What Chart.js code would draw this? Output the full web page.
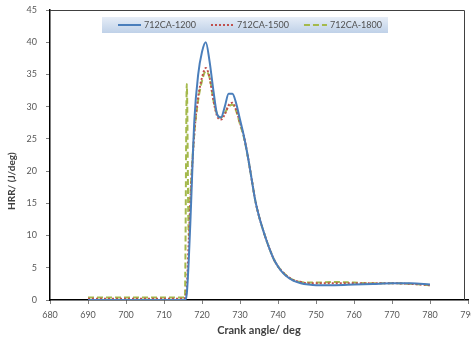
<!DOCTYPE html>
<html>
<head>
<meta charset="utf-8">
<title>HRR vs crank angle</title>
<script src="https://cdn.jsdelivr.net/npm/chart.js@4.4.1/dist/chart.umd.min.js"></script>
<style>
  html, body { margin: 0; padding: 0; background: #fff; overflow: hidden; }
  #chart { display: block; }
</style>
</head>
<body>
<canvas id="chart" width="471" height="341"></canvas>
<script>
// crank angle (deg) shared by all three runs
const angles = [690, 700, 710, 714, 715, 715.5, 716, 716.5, 717, 718, 719, 720, 721, 722, 723, 724,
  725, 726, 727, 728, 729, 730, 731, 732, 733, 734, 735, 736, 737, 738, 739, 740, 741,
  742, 744, 746, 748, 750, 755, 760, 765, 770, 775, 780];

// heat release rate, J/deg
const hrr1200 = [0, 0, 0, 0, 0, 0, 1, 6, 13, 28, 35, 38.5, 40, 37, 32.5, 28.8,
  28.3, 30, 32, 32, 30.5, 28, 25.5, 22.5, 19, 15.5, 13, 11, 9.2, 7.6, 6.2, 5.2, 4.4,
  3.8, 3.0, 2.6, 2.4, 2.3, 2.3, 2.4, 2.5, 2.6, 2.6, 2.4];
const hrr1500 = [0.2, 0.2, 0.2, 0.2, 0.2, 0.3, 2, 9, 16, 26, 31.5, 34.5, 36, 34.5, 31, 28.5,
  28, 28.8, 30.2, 30.6, 29.5, 27.5, 25.5, 22.5, 19, 15.5, 13, 11, 9.2, 7.6, 6.2, 5.2, 4.5,
  3.9, 3.1, 2.8, 2.6, 2.6, 2.6, 2.6, 2.6, 2.6, 2.5, 2.3];
const hrr1800 = [0.4, 0.4, 0.4, 0.4, 0.4, 0.4, 33.5, 10, 17, 26, 31, 34, 35.5, 34.5, 31, 28.8,
  28.3, 29, 30, 30.3, 29.3, 27.3, 25.3, 22.4, 19, 15.5, 13, 11, 9.2, 7.6, 6.2, 5.2, 4.5,
  3.9, 3.1, 2.8, 2.7, 2.7, 2.8, 2.7, 2.6, 2.6, 2.5, 2.3];

const seriesNames = ['712CA-1200', '712CA-1500', '712CA-1800'];
const xTitle = 'Crank angle/ deg';
const yTitle = 'HRR/ (J/deg)';

const FONT = 'Lato, "Liberation Sans", sans-serif';

function points(values) {
  return angles.map((a, i) => ({ x: a, y: values[i] }));
}

// box around the plot area (top and right sides)
const plotFrame = {
  id: 'plotFrame',
  beforeDatasetsDraw(chart) {
    const { ctx, chartArea: a } = chart;
    ctx.save();
    ctx.strokeStyle = '#404040';
    ctx.lineWidth = 1;
    ctx.beginPath();
    ctx.moveTo(a.left, a.top + 0.5);
    ctx.lineTo(a.right - 3.5, a.top + 0.5);
    ctx.lineTo(a.right - 3.5, a.bottom);
    ctx.stroke();
    ctx.restore();
  }
};

// rotated y title, sitting a bit below the middle of the axis
const yAxisTitle = {
  id: 'yAxisTitle',
  afterDraw(chart) {
    const { ctx, chartArea: a } = chart;
    ctx.save();
    ctx.translate(12, a.top + (a.bottom - a.top) * 0.59);
    ctx.rotate(-Math.PI / 2);
    ctx.font = 'bold 10px ' + FONT;
    ctx.fillStyle = '#404040';
    ctx.textAlign = 'center';
    ctx.textBaseline = 'middle';
    ctx.fillText(yTitle, 0, 0);
    ctx.restore();
  }
};

// legend strip inside the top of the plot
const insetLegend = {
  id: 'insetLegend',
  afterDraw(chart) {
    const { ctx, chartArea: a } = chart;
    const left = a.left + 52, top = a.top + 7, w = 286, h = 16;
    ctx.save();
    const g = ctx.createLinearGradient(0, top, 0, top + h);
    g.addColorStop(0, '#e6edf7');
    g.addColorStop(1, '#bfd1e8');
    ctx.fillStyle = g;
    ctx.fillRect(left, top, w, h);

    ctx.font = '9px ' + FONT;
    ctx.textBaseline = 'middle';
    const cy = top + h / 2;
    let x = left + 16;
    chart.data.datasets.forEach((ds) => {
      ctx.strokeStyle = ds.borderColor;
      ctx.lineWidth = ds.borderWidth;
      ctx.setLineDash(ds.borderDash || []);
      ctx.beginPath();
      ctx.moveTo(x, cy);
      ctx.lineTo(x + 23, cy);
      ctx.stroke();
      ctx.setLineDash([]);
      x += 26;
      ctx.fillStyle = '#505050';
      ctx.fillText(ds.label, x, cy);
      x += ctx.measureText(ds.label).width + 15;
    });
    ctx.restore();
  }
};

const data = {
  datasets: [{
    label: seriesNames[0],
    data: points(hrr1200),
    borderColor: '#4a7ebb',
    borderWidth: 2,
    cubicInterpolationMode: 'monotone'
  }, {
    label: seriesNames[1],
    data: points(hrr1500),
    borderColor: '#c0504d',
    borderWidth: 2,
    borderDash: [2, 2],
    cubicInterpolationMode: 'monotone'
  }, {
    label: seriesNames[2],
    data: points(hrr1800),
    borderColor: '#a4b94c',
    borderWidth: 2,
    borderDash: [6, 3],
    cubicInterpolationMode: 'monotone'
  }]
};

const options = {
  responsive: false,
  animation: false,
  layout: { padding: { top: 10, right: 3, left: 0, bottom: 0 } },
  elements: { point: { radius: 0 } },
  plugins: {
    legend: { display: false },
    tooltip: { enabled: false }
  },
  scales: {
    x: {
      type: 'linear',
      min: 680,
      max: 790,
      grid: { drawOnChartArea: false, tickLength: 4, tickColor: '#7f7f7f' },
      border: { color: '#000', width: 1.5 },
      ticks: {
        stepSize: 10,
        padding: 6,
        maxRotation: 0,
        color: '#595959',
        font: { family: FONT, size: 9 }
      },
      title: {
        display: true,
        text: xTitle,
        color: '#404040',
        font: { family: FONT, size: 11, weight: 'bold' },
        padding: { top: 0, bottom: 4 }
      },
      afterFit(scale) {
        scale.height = 41;
        scale.paddingLeft = 0;
        scale.paddingRight = 0;
      }
    },
    y: {
      min: 0,
      max: 45,
      grid: { drawOnChartArea: false, tickLength: 4, tickColor: '#7f7f7f' },
      border: { color: '#000', width: 1.5 },
      ticks: {
        stepSize: 5,
        padding: 9,
        color: '#595959',
        font: { family: FONT, size: 9 }
      },
      afterFit(scale) {
        scale.width = 50;
        scale.paddingTop = 0;
        scale.paddingBottom = 0;
      }
    }
  }
};

new Chart(document.getElementById('chart'), {
  type: 'line',
  data,
  options,
  plugins: [plotFrame, yAxisTitle, insetLegend]
});
</script>
</body>
</html>
